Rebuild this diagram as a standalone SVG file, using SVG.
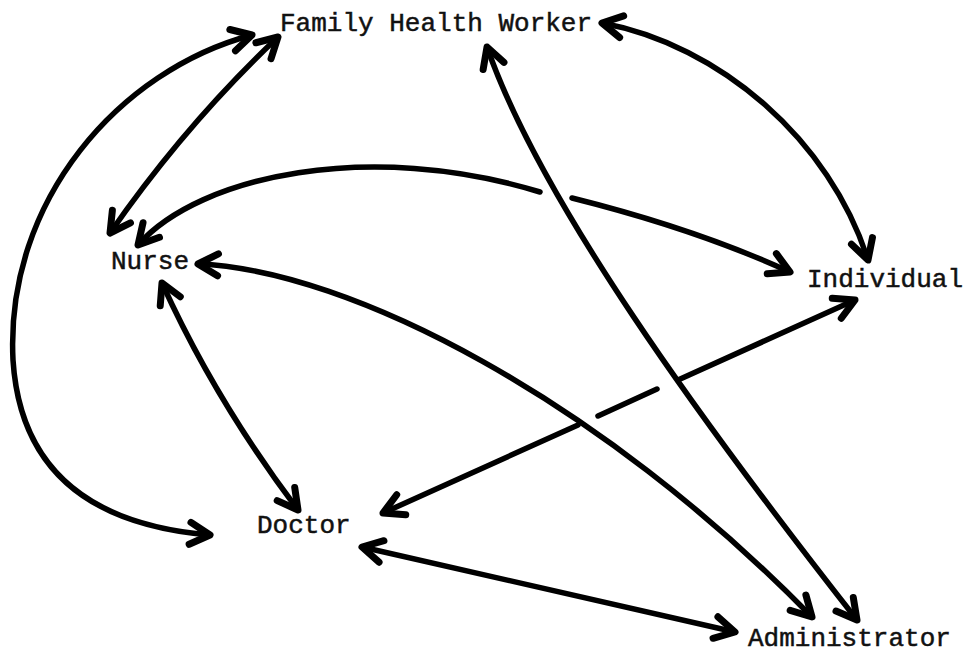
<svg xmlns="http://www.w3.org/2000/svg" width="963" height="656" viewBox="0 0 963 656">
<style>
.lbl{font-family:"Liberation Mono","DejaVu Sans Mono",monospace;font-size:26px;fill:#111;stroke:#111;stroke-width:0.5;}
.c{fill:none;stroke:#000;stroke-width:5.5;stroke-linecap:round;}
</style>
<defs>
<marker id="ah" markerUnits="userSpaceOnUse" viewBox="-30 -20 40 40" markerWidth="40" markerHeight="40" refX="0" refY="0" orient="auto-start-reverse" overflow="visible">
<path d="M -20 -11 L 0 0 L -20 11" fill="none" stroke="#000" stroke-width="7" stroke-linecap="round" stroke-linejoin="round"/>
</marker>
</defs>
<rect width="963" height="656" fill="#fff"/>
<g id="connectors">
<path class="c" d="M 278 37 Q 185 125 110 233" marker-start="url(#ah)" marker-end="url(#ah)"/>
<path class="c" d="M 252 35 C 120 70 5 200 13 360 C 20 470 90 525 210 535" marker-start="url(#ah)" marker-end="url(#ah)"/>
<path class="c" d="M 602 23 C 720 45 830 140 868 260" marker-start="url(#ah)" marker-end="url(#ah)"/>
<path class="c" d="M 487 47 C 540 200 700 420 857 620" marker-start="url(#ah)" marker-end="url(#ah)"/>
<path class="c" d="M 138 245 C 200 175 370 140 540 192" marker-start="url(#ah)"/>
<path class="c" d="M 572 198 C 640 215 720 240 790 272" marker-end="url(#ah)"/>
<path class="c" d="M 198 264 C 350 270 600 400 812 617" marker-start="url(#ah)" marker-end="url(#ah)"/>
<path class="c" d="M 162 283 Q 215 400 298 510" marker-start="url(#ah)" marker-end="url(#ah)"/>
<path class="c" d="M 383 513 L 578 425" marker-start="url(#ah)"/>
<path class="c" d="M 598 416 L 657 389"/>
<path class="c" d="M 678 380 L 855 300" marker-end="url(#ah)"/>
<path class="c" d="M 362 547 L 735 632" marker-start="url(#ah)" marker-end="url(#ah)"/>
</g>
<g id="fhw"><text class="lbl" x="280" y="31">Family Health Worker</text></g>
<g id="nurse"><text class="lbl" x="111" y="269">Nurse</text></g>
<g id="individual"><text class="lbl" x="807" y="287">Individual</text></g>
<g id="doctor"><text class="lbl" x="257" y="533">Doctor</text></g>
<g id="administrator"><text class="lbl" x="748" y="646">Administrator</text></g>
</svg>
